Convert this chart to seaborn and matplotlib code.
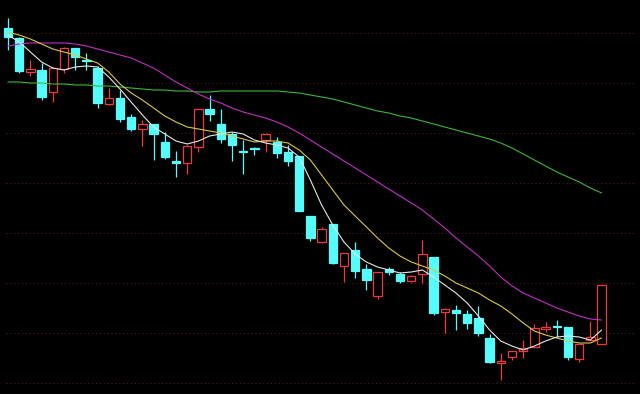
import numpy as np
import pandas as pd
import matplotlib
matplotlib.use("Agg")
import matplotlib.pyplot as plt
import seaborn as sns

# ---- data ----
opens = [6.55, 6.45, 6.11, 6.13, 5.91, 6.14, 6.35, 6.23, 6.15, 5.79,
         5.85, 5.66, 5.54, 5.59, 5.41, 5.22, 5.20, 5.36, 5.74, 5.59,
         5.49, 5.32, 5.35, 5.43, 5.41, 5.31, 5.27, 4.67, 4.41, 4.59,
         4.17, 4.33, 4.14, 3.87, 4.14, 4.09, 4.02, 4.09, 4.26, 3.71,
         3.73, 3.69, 3.65, 3.45, 3.20, 3.26, 3.32, 3.36, 3.54, 3.57,
         3.56, 3.24, 3.43, 3.39]
closes = [6.46, 6.12, 6.14, 5.86, 6.15, 6.35, 6.26, 6.22, 5.80, 5.85,
          5.64, 5.54, 5.59, 5.49, 5.26, 5.20, 5.37, 5.74, 5.69, 5.44,
          5.38, 5.31, 5.34, 5.49, 5.30, 5.22, 4.72, 4.45, 4.54, 4.20,
          4.30, 4.12, 4.03, 4.11, 4.11, 4.02, 4.07, 4.29, 3.70, 3.74,
          3.70, 3.60, 3.50, 3.21, 3.22, 3.32, 3.35, 3.55, 3.56, 3.56,
          3.26, 3.39, 3.46, 3.98]
highs = [6.65, 6.46, 6.23, 6.20, 6.16, 6.36, 6.35, 6.30, 6.17, 5.95,
         5.93, 5.69, 5.63, 5.59, 5.51, 5.32, 5.38, 5.74, 5.88, 5.74,
         5.51, 5.43, 5.36, 5.50, 5.46, 5.38, 5.27, 4.67, 4.56, 4.59,
         4.30, 4.41, 4.19, 4.11, 4.16, 4.11, 4.08, 4.43, 4.26, 3.75,
         3.78, 3.73, 3.77, 3.49, 3.30, 3.32, 3.43, 3.59, 3.61, 3.63,
         3.56, 3.39, 3.62, 3.98]
lows = [6.33, 6.10, 6.07, 5.83, 5.81, 6.10, 6.13, 6.13, 5.75, 5.78,
        5.61, 5.52, 5.37, 5.23, 5.24, 5.06, 5.09, 5.31, 5.62, 5.40,
        5.22, 5.09, 5.28, 5.31, 5.25, 5.17, 4.72, 4.42, 4.40, 4.19,
        4.01, 4.05, 3.93, 3.84, 4.08, 4.00, 4.01, 4.00, 3.68, 3.50,
        3.53, 3.54, 3.47, 3.20, 3.03, 3.23, 3.25, 3.36, 3.51, 3.46,
        3.23, 3.21, 3.43, 3.39]

ma5 = [6.48, 6.41, 6.31, 6.21, 6.15, 6.13, 6.16, 6.17, 6.16, 6.06,
       5.94, 5.81, 5.68, 5.56, 5.49, 5.42, 5.39, 5.42, 5.47, 5.49,
       5.51, 5.49, 5.43, 5.40, 5.38, 5.35, 5.26, 5.03, 4.78, 4.58,
       4.41, 4.29, 4.21, 4.16, 4.13, 4.10, 4.11, 4.13, 4.06, 3.98,
       3.90, 3.80, 3.67, 3.53, 3.42, 3.37, 3.33, 3.37, 3.42, 3.46,
       3.47, 3.46, 3.43, 3.53]
ma10 = [6.51, 6.48, 6.44, 6.39, 6.34, 6.31, 6.28, 6.24, 6.20, 6.11,
        5.99, 5.90, 5.83, 5.75, 5.67, 5.61, 5.56, 5.54, 5.52, 5.50,
        5.47, 5.44, 5.41, 5.42, 5.42, 5.40, 5.33, 5.23, 5.08, 4.93,
        4.78, 4.67, 4.56, 4.45, 4.35, 4.27, 4.21, 4.17, 4.13, 4.07,
        4.00, 3.95, 3.90, 3.83, 3.77, 3.69, 3.60, 3.52, 3.48, 3.45,
        3.42, 3.40, 3.40, 3.45]
ma20 = [6.37, 6.39, 6.40, 6.40, 6.40, 6.40, 6.39, 6.37, 6.34, 6.31,
        6.28, 6.25, 6.20, 6.15, 6.08, 6.01, 5.95, 5.89, 5.84, 5.80,
        5.75, 5.71, 5.68, 5.65, 5.61, 5.56, 5.50, 5.43, 5.36, 5.29,
        5.22, 5.15, 5.08, 5.01, 4.94, 4.87, 4.80, 4.73, 4.64, 4.55,
        4.45, 4.36, 4.27, 4.17, 4.06, 3.97, 3.90, 3.85, 3.80, 3.75,
        3.71, 3.67, 3.64, 3.63]
ma60 = [6.01, 6.01, 6.00, 6.00, 5.99, 5.99, 5.98, 5.98, 5.97, 5.97,
        5.96, 5.95, 5.94, 5.93, 5.93, 5.92, 5.92, 5.91, 5.91, 5.92,
        5.92, 5.92, 5.92, 5.92, 5.92, 5.91, 5.90, 5.88, 5.86, 5.84,
        5.81, 5.78, 5.75, 5.72, 5.70, 5.67, 5.65, 5.62, 5.59, 5.56,
        5.53, 5.50, 5.47, 5.44, 5.40, 5.35, 5.29, 5.23, 5.17, 5.11,
        5.06, 5.01, 4.95, 4.90]

grid_levels = [3.0, 3.5, 4.0, 4.5, 5.0, 5.5, 6.0, 6.5]

# ---- styling ----
UP = "#f03a3a"
DOWN = "#54fcfc"

sns.set_theme(style="dark", rc={"axes.facecolor": "black",
                                "figure.facecolor": "black"})

df = pd.DataFrame({"idx": np.arange(len(opens)), "open": opens, "high": highs,
                   "low": lows, "close": closes,
                   "ma5": ma5, "ma10": ma10, "ma20": ma20, "ma60": ma60})

fig = plt.figure(figsize=(6.4, 3.94), dpi=100)
ax = fig.add_axes([0, 0, 1, 1])
ax.set_facecolor("black")

for lvl in grid_levels:
    ax.axhline(lvl, xmin=0.01, xmax=0.99, color="#4e1c1c",
               linestyle=(0, (1, 2.5)), linewidth=0.8, zorder=0)

up = df[df["close"] > df["open"]]
down = df[df["close"] <= df["open"]]

# wicks
ax.vlines(up["idx"], up["low"], up["high"], color=UP, linewidth=0.9, zorder=1)
ax.vlines(down["idx"], down["low"], down["high"], color=DOWN, linewidth=0.9, zorder=1)

w = 0.76
# rising candles: hollow red
ax.bar(up["idx"], (up["close"] - up["open"]).clip(lower=0.008), bottom=up["open"],
       width=w, facecolor="black", edgecolor=UP, linewidth=0.9, zorder=2)
# falling candles: filled cyan
ax.bar(down["idx"], (down["open"] - down["close"]).clip(lower=0.008),
       bottom=down["close"], width=w, facecolor=DOWN, edgecolor=DOWN,
       linewidth=0.9, zorder=2)

# moving averages
for col, colr in [("ma60", "#38b838"), ("ma20", "#c030c0"),
                  ("ma10", "#d8c848"), ("ma5", "#e6e6e6")]:
    sns.lineplot(data=df, x="idx", y=col, color=colr, linewidth=0.8,
                 ax=ax, zorder=3, legend=False)

ax.set_xlim(-0.714, 56.43)
ax.set_ylim(2.89, 6.83)
ax.set_axis_off()

fig.savefig("out.png", dpi=100, facecolor="black")
